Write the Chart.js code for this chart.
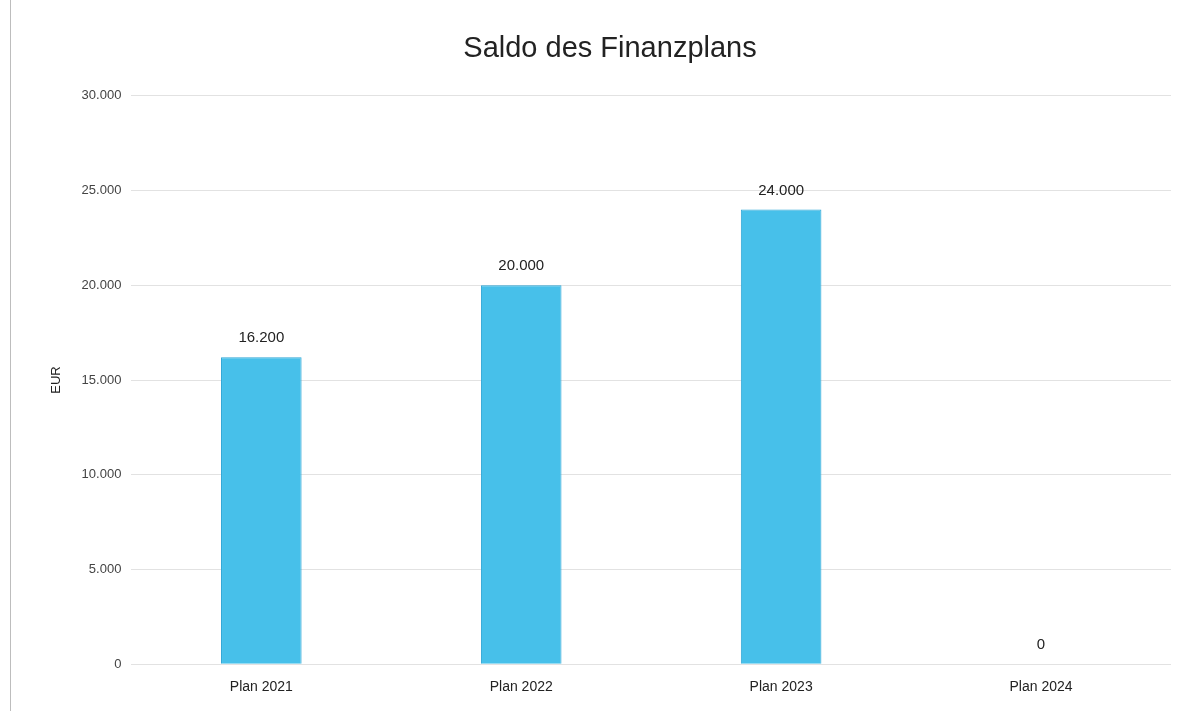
<!DOCTYPE html>
<html>
<head>
<meta charset="utf-8">
<script src="https://cdn.jsdelivr.net/npm/chart.js@4.4.0/dist/chart.umd.min.js"></script>
<style>
  html, body { margin: 0; padding: 0; background: #fff; }
  #wrap { position: relative; width: 1199px; height: 711px; }
  #wrap:before { content: ""; position: absolute; left: 10px; top: 0; bottom: 0; border-left: 1px solid #bdbdbd; }
</style>
</head>
<body>
<div id="wrap"><canvas id="saldoChart" width="1199" height="711"></canvas></div>
<script>
// Daten
const categories = ['Plan 2021', 'Plan 2022', 'Plan 2023', 'Plan 2024'];
const saldo = [16200, 20000, 24000, 0];
const yTicks = [0, 5000, 10000, 15000, 20000, 25000, 30000];

function fmt(v) {
    return String(v).replace(/\B(?=(\d{3})+(?!\d))/g, '.');
}

const FONT = '"Liberation Sans", Arial, sans-serif';

// Werte über den Balken
const valueLabels = {
    id: 'valueLabels',
    afterDatasetsDraw(chart) {
        const ctx = chart.ctx;
        ctx.save();
        ctx.font = '15px ' + FONT;
        ctx.fillStyle = '#222';
        ctx.textAlign = 'center';
        ctx.textBaseline = 'middle';
        chart.getDatasetMeta(0).data.forEach((bar, i) => {
            ctx.fillText(fmt(saldo[i]), bar.x, bar.y - 19);
        });
        ctx.restore();
    }
};

const ctx = document.getElementById('saldoChart').getContext('2d');
const chart = new Chart(ctx, {
    type: 'bar',
    data: {
        labels: categories,
        datasets: [{
            label: 'Saldo',
            data: saldo,
            backgroundColor: '#47c0ea',
            borderColor: '#2fa6d6',
            borderWidth: 1,
            barPercentage: 0.31,
            categoryPercentage: 1.0
        }]
    },
    options: {
        responsive: false,
        animation: false,
        layout: { padding: { left: 49, right: 28, top: 32, bottom: 0 } },
        plugins: {
            legend: { display: false },
            tooltip: { enabled: false },
            title: {
                display: true,
                text: 'Saldo des Finanzplans',
                color: '#222',
                font: { family: FONT, size: 29, weight: 'normal' },
                padding: { top: 0, bottom: 29 }
            }
        },
        scales: {
            x: {
                grid: { display: false, drawTicks: false },
                border: { display: false },
                ticks: {
                    color: '#222',
                    padding: 15,
                    font: { family: FONT, size: 14 }
                }
            },
            y: {
                min: 0,
                max: 30000,
                afterBuildTicks(axis) { axis.ticks = yTicks.map(v => ({ value: v })); },
                grid: { color: '#e2e2e2', drawTicks: false },
                border: { display: false },
                ticks: {
                    color: '#444',
                    padding: 10,
                    font: { family: FONT, size: 13 },
                    callback: v => fmt(v)
                },
                title: {
                    display: true,
                    text: 'EUR',
                    color: '#222',
                    font: { family: FONT, size: 13 },
                    padding: { top: 0, bottom: 7 }
                }
            }
        }
    },
    plugins: [valueLabels]
});
</script>
</body>
</html>
